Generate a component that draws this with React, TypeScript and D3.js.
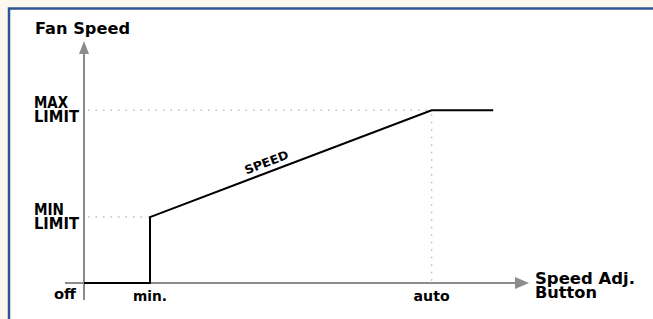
import React from "react";
import * as d3 from "d3";

const W = 653;
const H = 319;

// Data (abstract units)
const speedX = [0, 15, 15, 79, 93];
const speedY = [0, 0, 30.5, 80, 80];
const minLimit = 30.5;
const maxLimit = 80;
const minX = 15;
const autoX = 79;
const xTickLabels = [
  { label: "off", v: -5, len: 22 },
  { label: "min.", v: 15, len: 34 },
  { label: "auto", v: 79, len: 36 },
];
const yLabels = [
  { lines: ["MAX", "LIMIT"], lens: [34, 45], v: 80 },
  { lines: ["MIN", "LIMIT"], lens: [30, 45], v: 30.5 },
];

export default function App() {
  const x = d3.scaleLinear().domain([0, 100]).range([84, 524]);
  const y = d3.scaleLinear().domain([0, 100]).range([283, 67]);
  const line = d3
    .line<number>()
    .x((_, i) => x(speedX[i]))
    .y((d) => y(d));
  const path = line(speedY) || "";

  const font = "'DejaVu Sans', Verdana, sans-serif";
  const axisColor = "#8c8c8c";
  const dotColor = "#bdbdbd";

  const x1 = x(speedX[2]), y1 = y(speedY[2]), x2 = x(speedX[3]), y2 = y(speedY[3]);
  const ang = (Math.atan2(y2 - y1, x2 - x1) * 180) / Math.PI;
  const lx = 268;
  const ly = y1 + ((lx - x1) * (y2 - y1)) / (x2 - x1) - 6;

  return (
    <svg
      width={W}
      height={H}
      style={{ position: "absolute", left: 0, top: 0 }}
      fontFamily={font}
      fontWeight="bold"
    >
      <rect x={0} y={0} width={W} height={H} fill="#fdf8ee" />
      <rect x={9} y={8.5} width={700} height={400} fill="#ffffff" stroke="#2d5495" strokeWidth={2.5} />

      {/* dotted guides */}
      <line x1={x(0) + 4} x2={x(minX)} y1={y(minLimit)} y2={y(minLimit)} stroke={dotColor} strokeWidth={1.5} strokeDasharray="1.5,6" />
      <line x1={x(0) + 4} x2={x(autoX)} y1={y(maxLimit)} y2={y(maxLimit)} stroke={dotColor} strokeWidth={1.5} strokeDasharray="1.5,6" />
      <line x1={x(autoX)} x2={x(autoX)} y1={y(maxLimit) + 4} y2={y(0) - 2} stroke={dotColor} strokeWidth={1.5} strokeDasharray="1.5,6" />

      {/* axes */}
      <line x1={x(0)} x2={x(0)} y1={300} y2={50} stroke={axisColor} strokeWidth={2} />
      <path d={`M${x(0)},41 L${x(0) - 5},54 L${x(0) + 5},54 Z`} fill={axisColor} />
      <line x1={65} x2={518} y1={y(0)} y2={y(0)} stroke={axisColor} strokeWidth={2} />
      <path d={`M529,${y(0)} L515,${y(0) - 6} L515,${y(0) + 6} Z`} fill={axisColor} />

      {/* speed line */}
      <path d={path} fill="none" stroke="#000" strokeWidth={2} />

      <text x={lx} y={ly} fontSize={12} textAnchor="middle" textLength={46} lengthAdjust="spacingAndGlyphs" transform={`rotate(${ang},${lx},${ly})`}>SPEED</text>

      {/* labels */}
      <text x={35} y={34} fontSize={16} textLength={95} lengthAdjust="spacingAndGlyphs">Fan Speed</text>
      {yLabels.map((d, i) => (
        <g key={i}>
          <text x={34} y={y(d.v) - 2} fontSize={15} textLength={d.lens[0]} lengthAdjust="spacingAndGlyphs">{d.lines[0]}</text>
          <text x={34} y={y(d.v) + 12} fontSize={15} textLength={d.lens[1]} lengthAdjust="spacingAndGlyphs">{d.lines[1]}</text>
        </g>
      ))}
      {xTickLabels.map((d, i) => (
        <text
          key={i}
          x={i === 0 ? 54 : x(d.v) - d.len / 2}
          y={i === 0 ? 299 : 301}
          fontSize={14.5}
          textLength={d.len}
          lengthAdjust="spacingAndGlyphs"
        >
          {d.label}
        </text>
      ))}
      <text x={535} y={284} fontSize={16} textLength={100} lengthAdjust="spacingAndGlyphs">Speed Adj.</text>
      <text x={535} y={298} fontSize={16} textLength={62} lengthAdjust="spacingAndGlyphs">Button</text>
    </svg>
  );
}
